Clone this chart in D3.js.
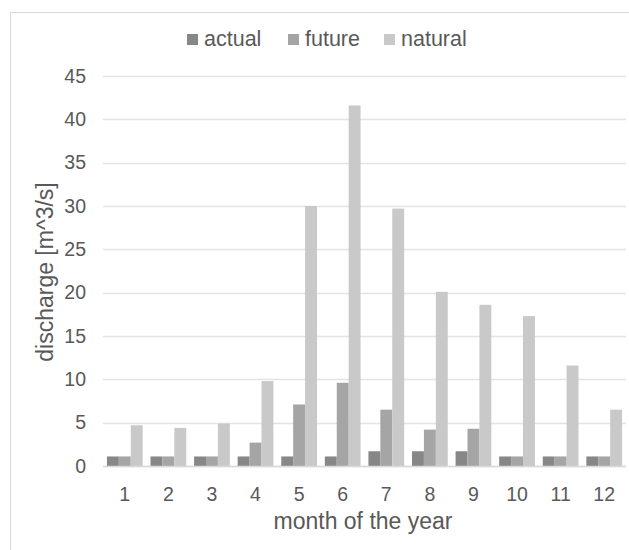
<!DOCTYPE html>
<html>
<head>
<meta charset="utf-8">
<script src="https://cdn.jsdelivr.net/npm/d3@7"></script>
<style>
  body { margin: 0; background: #fff; }
  text { font-family: "Liberation Sans", Arial, sans-serif; fill: #595959; }
</style>
</head>
<body>
<div id="chart"></div>
<script>
var months = ["1", "2", "3", "4", "5", "6", "7", "8", "9", "10", "11", "12"];
var seriesNames = ["actual", "future", "natural"];
var actual = [1.1, 1.1, 1.1, 1.1, 1.1, 1.1, 1.7, 1.7, 1.7, 1.1, 1.1, 1.1];
var future = [1.1, 1.1, 1.1, 2.7, 7.1, 9.6, 6.5, 4.2, 4.3, 1.1, 1.1, 1.1];
var natural = [4.7, 4.4, 4.9, 9.8, 30.0, 41.6, 29.7, 20.1, 18.6, 17.3, 11.6, 6.5];
var yTicks = [0, 5, 10, 15, 20, 25, 30, 35, 40, 45];
var colors = ["#878787", "#a5a5a5", "#c9c9c9"];

var values = [actual, future, natural];

var svg = d3.select("#chart").append("svg")
    .attr("width", 629)
    .attr("height", 550);

// chart border (cut off on right and bottom like the picture)
svg.append("rect")
    .attr("x", 10.5)
    .attr("y", 12.5)
    .attr("width", 700)
    .attr("height", 600)
    .attr("fill", "none")
    .attr("stroke", "#d9d9d9");

var x0 = d3.scaleBand()
    .domain(months)
    .range([103, 626])
    .paddingInner(0.18)
    .paddingOuter(0.09);

var x1 = d3.scaleBand()
    .domain(seriesNames)
    .range([0, x0.bandwidth()]);

var y = d3.scaleLinear()
    .domain([0, 45])
    .range([466, 76]);

var color = d3.scaleOrdinal().domain(seriesNames).range(colors);

// grid lines
svg.append("g")
    .selectAll("line")
    .data(yTicks)
    .enter()
    .append("line")
    .attr("x1", 103)
    .attr("x2", 626)
    .attr("y1", d => Math.round(y(d)) + 0.5)
    .attr("y2", d => Math.round(y(d)) + 0.5)
    .attr("stroke", "#e3e3e3")
    .attr("stroke-width", 1.3);

// y axis labels
var yAxis = d3.axisLeft(y).tickValues(yTicks).tickSize(0).tickPadding(0);
var gy = svg.append("g")
    .attr("transform", "translate(86,0)")
    .call(yAxis);
gy.select(".domain").remove();
gy.selectAll("text")
    .style("font-size", "19.5px")
    .attr("fill", "#595959");

// bars
var groups = svg.append("g")
    .selectAll("g")
    .data(months)
    .enter()
    .append("g")
    .attr("transform", d => "translate(" + x0(d) + ",0)");

groups.selectAll("rect")
    .data((m, i) => seriesNames.map((s, k) => ({ key: s, value: values[k][i] })))
    .enter()
    .append("rect")
    .attr("x", d => x1(d.key))
    .attr("width", x1.bandwidth())
    .attr("y", d => y(d.value))
    .attr("height", d => y(0) - y(d.value))
    .attr("fill", d => color(d.key));

// x axis line
svg.append("line")
    .attr("x1", 103)
    .attr("x2", 626)
    .attr("y1", 466.5)
    .attr("y2", 466.5)
    .attr("stroke", "#d9d9d9")
    .attr("stroke-width", 1.3);

// x axis labels
var xAxis = d3.axisBottom(x0).tickSize(0).tickPadding(0);
var gx = svg.append("g")
    .attr("transform", "translate(0,487)")
    .call(xAxis);
gx.select(".domain").remove();
gx.selectAll("text")
    .style("font-size", "19.5px")
    .attr("fill", "#595959");

// axis titles
svg.append("text")
    .attr("x", 363)
    .attr("y", 529)
    .style("text-anchor", "middle")
    .style("font-size", "23px")
    .text("month of the year");

svg.append("text")
    .attr("transform", "translate(52.5,272) rotate(-90)")
    .style("text-anchor", "middle")
    .style("font-size", "23px")
    .text("discharge [m^3/s]");

// legend
var legendX = [187, 288, 384];
var legend = svg.append("g")
    .selectAll("g")
    .data(seriesNames)
    .enter()
    .append("g")
    .attr("transform", (d, i) => "translate(" + legendX[i] + ",34)");

legend.append("rect")
    .attr("width", 11)
    .attr("height", 11)
    .attr("fill", d => color(d));

legend.append("text")
    .attr("x", 17)
    .attr("y", 12)
    .style("font-size", "21.5px")
    .text(d => d);
</script>
</body>
</html>
